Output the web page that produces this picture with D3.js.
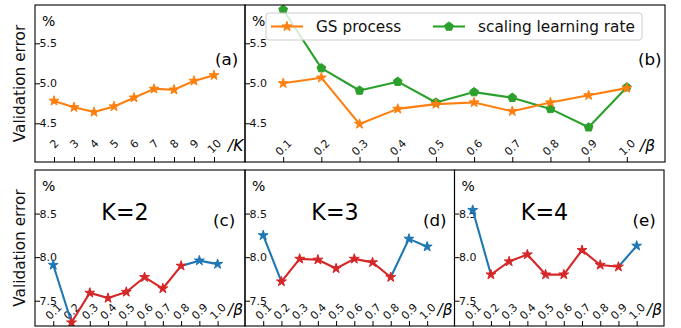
<!DOCTYPE html>
<html><head><meta charset="utf-8">
<script src="https://cdn.jsdelivr.net/npm/d3@7"></script>
<style>body{margin:0;background:#fff} text{font-family:"DejaVu Sans",sans-serif}</style>
</head><body><svg id="c" width="681" height="328"></svg>
<script>
// ---------- data ----------
const kValues = [2, 3, 4, 5, 6, 7, 8, 9, 10];
const kTickLabels = ["2", "3", "4", "5", "6", "7", "8", "9", "10"];
const errByK = [4.78, 4.70, 4.64, 4.71, 4.82, 4.93, 4.92, 5.03, 5.10];

const betaValues = [0.1, 0.2, 0.3, 0.4, 0.5, 0.6, 0.7, 0.8, 0.9, 1.0];
const betaTickLabels = ["0.1", "0.2", "0.3", "0.4", "0.5", "0.6", "0.7", "0.8", "0.9", "1.0"];
const gsProcess = [5.00, 5.07, 4.49, 4.68, 4.74, 4.76, 4.65, 4.76, 4.85, 4.94];
const scalingLR = [5.92, 5.19, 4.91, 5.02, 4.76, 4.89, 4.82, 4.68, 4.45, 4.95];

const errK2 = [7.91, 7.25, 7.59, 7.53, 7.60, 7.77, 7.64, 7.90, 7.96, 7.92];
const errK3 = [8.25, 7.72, 7.98, 7.97, 7.87, 7.98, 7.94, 7.77, 8.21, 8.12];
const errK4 = [8.54, 7.80, 7.95, 8.03, 7.80, 7.80, 8.08, 7.91, 7.89, 8.13];
const redRangeK2 = [0.2, 0.8];
const redRangeK3 = [0.2, 0.8];
const redRangeK4 = [0.2, 0.9];

const topYTicks = [4.5, 5.0, 5.5];
const bottomYTicks = [7.5, 8.0, 8.5];
const legendLabels = ["GS process", "scaling learning rate"];
const panelTags = ["(a)", "(b)", "(c)", "(d)", "(e)"];
const kTitles = ["K=2", "K=3", "K=4"];

// ---------- style ----------
const C = {orange: "#ff7f0e", green: "#2ca02c", blue: "#1f77b4", red: "#d62728"};
const svg = d3.select("#c");
svg.append("rect").attr("width", 681).attr("height", 328).attr("fill", "#fff");

function starPath(r) {
  const ri = r * 0.381966, pts = [];
  for (let i = 0; i < 10; i++) {
    const a = -Math.PI / 2 + i * Math.PI / 5, rr = i % 2 ? ri : r;
    pts.push([rr * Math.cos(a), rr * Math.sin(a)]);
  }
  return "M" + pts.map(p => p.join(",")).join("L") + "Z";
}
function pentPath(r) {
  const pts = [];
  for (let i = 0; i < 5; i++) {
    const a = -Math.PI / 2 + i * 2 * Math.PI / 5;
    pts.push([r * Math.cos(a), r * Math.sin(a)]);
  }
  return "M" + pts.map(p => p.join(",")).join("L") + "Z";
}
const STAR = starPath(5.2), PENT = pentPath(4.6);

let clipId = 0;
function makePanel(p) {
  const g = svg.append("g");
  const x = d3.scaleLinear().domain(p.xd).range([p.x0, p.x1]);
  const y = d3.scaleLinear().domain(p.yd).range([p.y1, p.y0]);
  const id = "clip" + (clipId++);
  svg.append("clipPath").attr("id", id).append("rect")
    .attr("x", p.x0).attr("y", p.y0).attr("width", p.x1 - p.x0).attr("height", p.y1 - p.y0);

  // y axis (ticks inward, labels inside)
  const ya = g.append("g").attr("transform", `translate(${p.x0},0)`)
    .call(d3.axisLeft(y).tickValues(p.yt).tickFormat(d3.format(".1f"))
      .tickSizeInner(-5).tickSizeOuter(0).tickPadding(-5));
  ya.select(".domain").remove();
  ya.attr("font-family", "DejaVu Sans").attr("font-size", 11);
  ya.selectAll("text").attr("text-anchor", "start").attr("x", 4.5).attr("fill", "#111");
  ya.selectAll("line").attr("stroke", "#000").attr("stroke-width", 1);

  // x axis (ticks inward, rotated labels inside)
  const xa = g.append("g").attr("transform", `translate(0,${p.y1})`)
    .call(d3.axisBottom(x).tickValues(p.xv).tickFormat((d, i) => p.xl[i])
      .tickSizeInner(-5).tickSizeOuter(0));
  xa.select(".domain").remove();
  xa.attr("font-family", "DejaVu Sans").attr("font-size", 11);
  xa.selectAll("line").attr("stroke", "#000").attr("stroke-width", 1);
  xa.selectAll("text").each(function () {
    const t = d3.select(this);
    t.attr("y", 0).attr("dy", null).attr("text-anchor", "middle")
      .attr("dominant-baseline", "central").attr("fill", "#111");
    const w = this.getComputedTextLength();
    const half = (w + 12.8) / (2 * Math.SQRT2);
    t.attr("transform", `translate(0,${-25 + half}) rotate(-45)`);
  });

  // "%" label
  g.append("text").attr("x", p.x0 + 7).attr("y", p.y0 + 21).attr("font-size", 14).text("%");
  // axis unit label
  g.append("text").attr("x", p.x1 - p.unitOff).attr("y", p.y1 - 11).attr("font-size", 15.3)
    .attr("font-style", "italic").text(p.unit);
  // panel tag
  g.append("text").attr("x", p.x0 + p.tagX).attr("y", p.y0 + p.tagY).attr("font-size", 16.7).text(p.tag);
  if (p.title) {
    g.append("text").attr("x", p.x0 + 90).attr("y", p.y0 + 50).attr("font-size", 22.2)
      .attr("text-anchor", "middle").text(p.title);
  }
  const plot = svg.append("g").attr("clip-path", `url(#${id})`);
  return {x, y, plot, p};
}

function drawSeries(P, xs, ys, color, marker) {
  const line = d3.line().x((d, i) => P.x(xs[i])).y(d => P.y(d));
  P.plot.append("path").attr("d", line(ys)).attr("fill", "none")
    .attr("stroke", color).attr("stroke-width", 2.1).attr("stroke-linejoin", "round");
  P.plot.selectAll(null).data(ys).enter().append("path")
    .attr("d", marker).attr("transform", (d, i) => `translate(${P.x(xs[i])},${P.y(d)})`)
    .attr("fill", color).attr("stroke", color).attr("stroke-width", 1).attr("stroke-linejoin", "round");
}

function drawSplit(P, xs, ys, range) {
  const line = d3.line().x(d => P.x(d[0])).y(d => P.y(d[1]));
  const pts = xs.map((v, i) => [v, ys[i]]);
  const eps = 1e-9;
  const inRed = d => d[0] >= range[0] - eps && d[0] <= range[1] + eps;
  const before = pts.filter(d => d[0] <= range[0] + eps);
  const after = pts.filter(d => d[0] >= range[1] - eps);
  const red = pts.filter(inRed);
  [[before, C.blue], [after, C.blue], [red, C.red]].forEach(([seg, col]) => {
    if (seg.length > 1)
      P.plot.append("path").attr("d", line(seg)).attr("fill", "none")
        .attr("stroke", col).attr("stroke-width", 2.1).attr("stroke-linejoin", "round");
  });
  P.plot.selectAll(null).data(pts).enter().append("path")
    .attr("d", STAR).attr("transform", d => `translate(${P.x(d[0])},${P.y(d[1])})`)
    .attr("fill", d => inRed(d) ? C.red : C.blue).attr("stroke", d => inRed(d) ? C.red : C.blue)
    .attr("stroke-width", 1).attr("stroke-linejoin", "round");
}

const topY = [4.016, 5.979], botY = [7.21, 9.0];
const pa = makePanel({x0: 35, x1: 245, y0: 5, y1: 162, xd: [1.05, 11.55], yd: topY, yt: topYTicks,
  xv: kValues, xl: kTickLabels, unit: "/K", unitOff: 17, tag: panelTags[0], tagX: 180, tagY: 60});
const pb = makePanel({x0: 245, x1: 665, y0: 5, y1: 162, xd: [0, 1.1], yd: topY, yt: topYTicks,
  xv: betaValues, xl: betaTickLabels, unit: "/β", unitOff: 25, tag: panelTags[1], tagX: 393, tagY: 60});
const pc = makePanel({x0: 35, x1: 245, y0: 170, y1: 326, xd: [0, 1.15], yd: botY, yt: bottomYTicks,
  xv: betaValues, xl: betaTickLabels, unit: "/β", unitOff: 17, tag: panelTags[2], tagX: 178, tagY: 56, title: kTitles[0]});
const pd = makePanel({x0: 245, x1: 454.5, y0: 170, y1: 326, xd: [0, 1.15], yd: botY, yt: bottomYTicks,
  xv: betaValues, xl: betaTickLabels, unit: "/β", unitOff: 17, tag: panelTags[3], tagX: 178, tagY: 56, title: kTitles[1]});
const pe = makePanel({x0: 454.5, x1: 664, y0: 170, y1: 326, xd: [0, 1.15], yd: botY, yt: bottomYTicks,
  xv: betaValues, xl: betaTickLabels, unit: "/β", unitOff: 17, tag: panelTags[4], tagX: 178, tagY: 56, title: kTitles[2]});

drawSeries(pa, kValues, errByK, C.orange, STAR);
drawSeries(pb, betaValues, scalingLR, C.green, PENT);
drawSeries(pb, betaValues, gsProcess, C.orange, STAR);
drawSplit(pc, betaValues, errK2, redRangeK2);
drawSplit(pd, betaValues, errK3, redRangeK3);
drawSplit(pe, betaValues, errK4, redRangeK4);

// spines
[pa, pb, pc, pd, pe].forEach(P => {
  const p = P.p;
  svg.append("rect").attr("x", p.x0).attr("y", p.y0).attr("width", p.x1 - p.x0).attr("height", p.y1 - p.y0)
    .attr("fill", "none").attr("stroke", "#000").attr("stroke-width", 1.1);
});

// legend in (b)
const lg = svg.append("g").attr("transform", "translate(266,13)");
lg.append("rect").attr("width", 376).attr("height", 27).attr("rx", 3)
  .attr("fill", "#fff").attr("fill-opacity", 0.8).attr("stroke", "#ccc").attr("stroke-width", 1);
const legendItems = [
  {label: legendLabels[0], color: C.orange, marker: STAR, x: 5},
  {label: legendLabels[1], color: C.green, marker: PENT, x: 167}
];
legendItems.forEach(it => {
  lg.append("line").attr("x1", it.x).attr("x2", it.x + 32).attr("y1", 13.5).attr("y2", 13.5)
    .attr("stroke", it.color).attr("stroke-width", 2.1);
  lg.append("path").attr("d", it.marker).attr("transform", `translate(${it.x + 16},13.5)`)
    .attr("fill", it.color).attr("stroke", it.color).attr("stroke-width", 1);
  lg.append("text").attr("x", it.x + 45).attr("y", 19).attr("font-size", 15.3).attr("fill", "#111").text(it.label);
});

// y labels
[[83.5], [248]].forEach(([cy]) => {
  svg.append("text").attr("transform", `translate(25,${cy}) rotate(-90)`)
    .attr("text-anchor", "middle").attr("font-size", 15.3).attr("fill", "#111").text("Validation error");
});
</script></body></html>
